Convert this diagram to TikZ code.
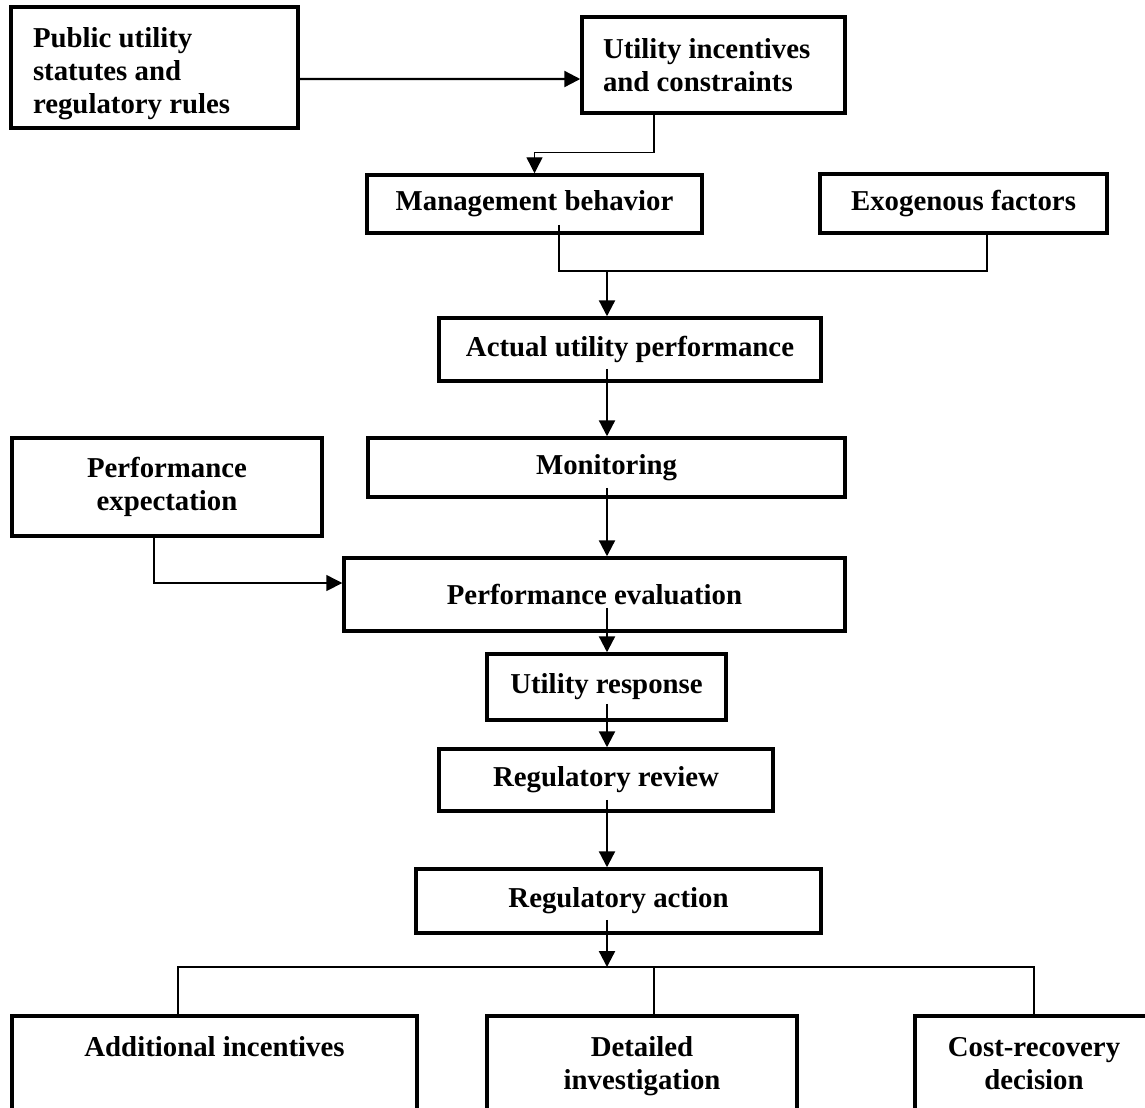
\documentclass[tikz,border=0pt]{standalone}
\usepackage{fontspec}
\setmainfont{Liberation Serif}
\usetikzlibrary{arrows.meta}
\begin{document}
\begin{tikzpicture}[x=0.02cm, y=-0.02cm]
    \tikzstyle{box}=[rectangle, draw=black, line width=2pt, inner sep=0pt, align=center, font=\fontsize{16.4}{18.8}\selectfont\bfseries, text=black]
    \tikzstyle{openbox}=[box, anchor=north, inner xsep=0pt, inner ysep=0.4cm, text height=0.42cm, text depth=2.6cm]
    \tikzstyle{arr}=[black, line width=1.3pt, -{Triangle[length=0.32cm, width=0.32cm]}]
    \tikzstyle{thinarr}=[black, line width=0.8pt, -{Triangle[length=0.32cm, width=0.32cm]}]
    \tikzstyle{wire}=[black, line width=0.8pt]

    \useasboundingbox (0,0) rectangle (1145,1107);

    \node[box, minimum width=5.74cm, minimum height=2.42cm, text width=4.86cm, align=flush left, text depth=1.2cm] (rules) at (154.5,67.5) {Public utility\\statutes and\\regulatory rules};
    \node[box, minimum width=5.26cm, minimum height=1.92cm, text width=4.42cm, align=flush left] (incent) at (713.5,65) {Utility incentives\\and constraints};
    \node[box, minimum width=6.70cm, minimum height=1.16cm] (mgmt) at (534.5,204) {Management behavior};
    \node[box, minimum width=5.74cm, minimum height=1.18cm] (exo) at (963.5,203.5) {Exogenous factors};
    \node[box, minimum width=7.64cm, minimum height=1.26cm] (actual) at (630,349.5) {Actual utility performance};
    \node[box, minimum width=9.54cm, minimum height=1.18cm] (monitor) at (606.5,467.5) {Monitoring};
    \node[box, minimum width=6.20cm, minimum height=1.96cm] (expect) at (167,487) {Performance\\expectation};
    \node[box, minimum width=10.02cm, minimum height=1.46cm] (eval) at (594.5,594.5) {Performance evaluation};
    \node[box, minimum width=4.78cm, minimum height=1.32cm] (resp) at (606.5,687) {Utility response};
    \node[box, minimum width=6.68cm, minimum height=1.24cm] (review) at (606,780) {Regulatory review};
    \node[box, minimum width=8.10cm, minimum height=1.28cm] (action) at (618.5,901) {Regulatory action};
    \node[openbox, minimum width=8.10cm] (addinc) at (214.5,1014) {Additional incentives};
    \node[openbox, minimum width=6.20cm, text height=1.08cm] (detail) at (642,1014) {Detailed\\investigation};
    \node[openbox, minimum width=4.76cm, text height=1.08cm] (cost) at (1034,1014) {Cost-recovery\\decision};

    \coordinate (join) at (607,271);
    \coordinate (fork) at (607,967);

    \draw[arr] ([yshift=-0.23cm]rules.east) -- ([yshift=-0.28cm]incent.west);
    \draw[thinarr] ([xshift=-1.19cm]incent.south) -- ++(0,38) -| (mgmt.north);
    \draw[wire, shorten <=-0.2cm] ([xshift=0.49cm]mgmt.south) |- (join) -| ([xshift=0.47cm]exo.south);
    \draw[arr] (join) -- (join |- actual.north);
    \draw[arr, shorten <=-0.28cm] (actual.south -| join) -- (monitor.north -| join);
    \draw[arr, shorten <=-0.22cm] (monitor.south -| join) -- (eval.north -| join);
    \draw[thinarr] ([xshift=-0.26cm]expect.south) |- ([yshift=0.23cm]eval.west);
    \draw[arr, shorten <=-0.5cm] (eval.south -| join) -- (resp.north -| join);
    \draw[arr, shorten <=-0.36cm] (resp.south -| join) -- (review.north -| join);
    \draw[arr, shorten <=-0.26cm] (review.south -| join) -- (action.north -| join);
    \draw[arr, shorten <=-0.3cm] (action.south -| fork) -- (fork);
    \draw[wire] ([xshift=-0.73cm]addinc.north) |- (fork) -| (cost.north);
    \draw[wire] ([xshift=0.24cm]detail.north) -- ++(0,-47);
\end{tikzpicture}
\end{document}
